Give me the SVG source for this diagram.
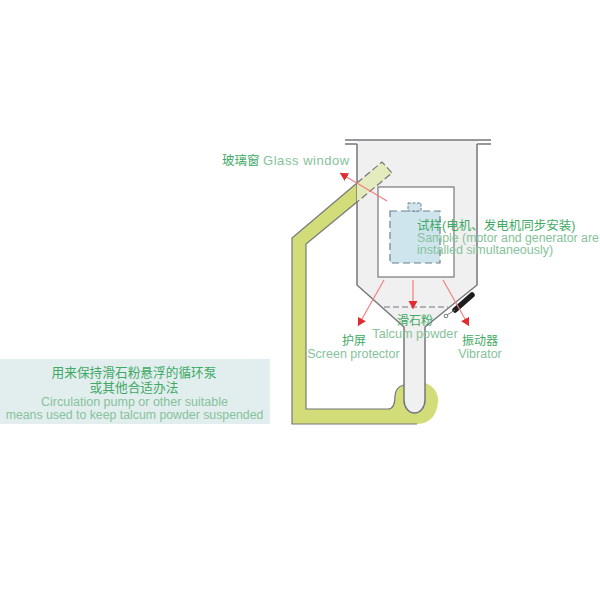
<svg xmlns="http://www.w3.org/2000/svg" width="600" height="600" viewBox="0 0 600 600">
<style>
text{font-family:"Liberation Sans","Noto Sans CJK SC",sans-serif;text-anchor:middle}
.cn{fill:#3fa965;font-size:12px}
.en{fill:#86c29b;font-size:12.500px}
.start{text-anchor:start}
.wall{fill:none;stroke:#77777a;stroke-width:1.500}
.arrow{stroke:#f08080;stroke-width:1.200;fill:none;marker-end:url(#ah)}
</style>
<defs><marker id="ah" markerUnits="userSpaceOnUse" markerWidth="10" markerHeight="10" refX="8" refY="4.500" orient="auto"><path d="M0 0L8 4.500L0 9Z" fill="#e02b32"/></marker></defs>
<rect width="600" height="600" fill="#fff"/>
<g id="note"><rect x="0" y="359" width="270" height="65" fill="#e2eeee"/>
<text class="cn" x="134" y="377" style="font-size:12.700px">用来保持滑石粉悬浮的循环泵</text>
<text class="cn" x="134" y="391.500" style="font-size:12.700px">或其他合适办法</text>
<text class="en" x="134.500" y="406">Circulation pump or other suitable</text>
<text class="en" x="134.500" y="418.500" style="font-size:12.300px">means used to keep talcum powder suspended</text></g>
<g id="pipe"><path d="M357 183L292 238V424H417C431 424 438 413 438 400C438 391 432 385 425 383L404 385C398 386 395 391 395 396C395 403 394 409 388 409H306V244L357 202Z" fill="#d2dc78"/>
<path d="M357 183L292 238V424H417M404 385C398 386 395 391 395 396C395 403 394 409 388 409H306V244L357 202" fill="none" stroke="#77777a" stroke-width="1.200"/></g>
<g id="chamber"><path d="M357 140H477V285L425 327V400A10.500 13 0 0 1 404 400V327L357 285Z" fill="#f0f0f0"/>
<path class="wall" d="M357 144V285L404 327V400A10.500 13 0 0 0 425 400V327L477 285V144"/>
<path class="wall" d="M345 140H491M345 144H357M477 144H491"/></g>
<g id="window"><path d="M357 183L382 162L392 173L357 202Z" fill="#e4ebbd"/><path d="M357 183L382 162L392 173L357 202" fill="none" stroke="#77777a" stroke-width="1.200" stroke-dasharray="7 3"/></g>
<g id="inner-box"><rect x="378" y="187" width="76" height="90" fill="#fff" stroke="#77777a" stroke-width="1.200"/></g>
<g id="sample"><rect x="390" y="211" width="50" height="52" fill="#cfe5ee" stroke="#6d8088" stroke-width="1.200" stroke-dasharray="7 4"/><rect x="408" y="203" width="13" height="8" fill="#cfe5ee" stroke="#6d8088" stroke-width="1" stroke-dasharray="3 1.500"/></g>
<g id="vibrator"><path d="M455 310L472 295" stroke="#1d1d1d" stroke-width="5.500" stroke-linecap="round"/><path d="M447 315L455 310" stroke="#77777a"/><circle cx="446" cy="316" r="1.800" fill="#fff" stroke="#77777a"/></g>
<g id="connectors"><path d="M384 307H448" stroke="#77777a" stroke-width="1.200" stroke-dasharray="6 3" fill="none"/>
<path class="arrow" d="M387 201L340 173"/><path class="arrow" d="M384 280L358 326"/><path class="arrow" d="M413 280V309"/><path class="arrow" d="M443 280L469 326"/></g>
<g id="labels">
<text class="cn start" x="222" y="165" style="font-size:12.500px">玻璃窗</text>
<text class="en start" x="263" y="165" style="font-size:13px;letter-spacing:.55px">Glass window</text>
<text class="cn start" x="417" y="230" style="font-size:12.500px">试样(电机、发电机同步安装)</text>
<text class="en start" x="417" y="242" style="font-size:12.300px">Sample (motor and generator are</text>
<text class="en start" x="417" y="254">installed simultaneously)</text>
<text class="cn" x="415" y="325">滑石粉</text>
<text class="en" x="415" y="337.500" style="font-size:12.700px">Talcum powder</text>
<text class="cn" x="354" y="345">护屏</text>
<text class="en" x="353.500" y="358">Screen protector</text>
<text class="cn" x="480" y="345">振动器</text>
<text class="en" x="480" y="358">Vibrator</text>
</g>
</svg>
